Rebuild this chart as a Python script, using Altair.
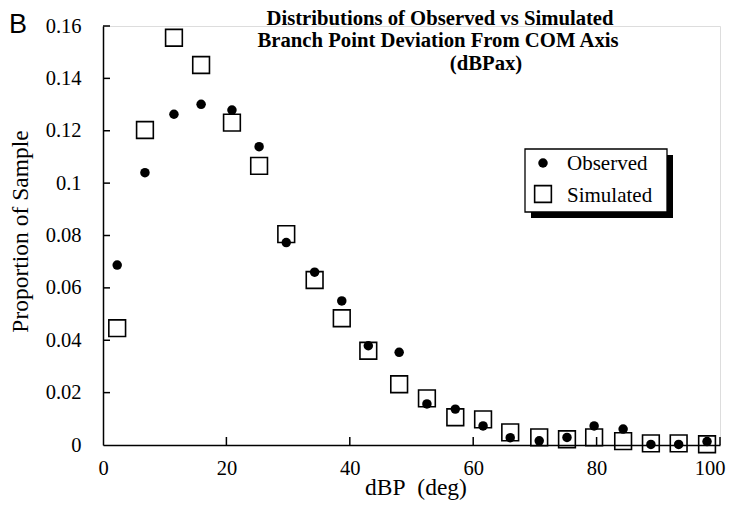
import altair as alt
import pandas as pd

# ---- data ----
dbp_deg = [2.3, 6.8, 11.5, 15.9, 20.9, 25.3, 29.7, 34.3, 38.7, 43.0, 48.0,
           52.5, 57.1, 61.6, 66.0, 70.7, 75.2, 79.6, 84.3, 88.8, 93.3, 97.9]
observed = [0.0687, 0.104, 0.1263, 0.1301, 0.1279, 0.1139, 0.0773, 0.066,
            0.055, 0.0379, 0.0354, 0.0157, 0.0137, 0.0073, 0.0028, 0.0016,
            0.0029, 0.0073, 0.0061, 0.0002, 0.0002, 0.0013]
simulated = [0.0446, 0.1203, 0.1555, 0.1451, 0.1231, 0.1066, 0.0805, 0.063,
             0.0484, 0.036, 0.0232, 0.0178, 0.0106, 0.0098, 0.0048, 0.0029,
             0.0022, 0.0029, 0.0015, 0.0006, 0.0006, 0.0003]
x_ticks = [0, 20, 40, 60, 80, 100]
y_ticks = [0, 0.02, 0.04, 0.06, 0.08, 0.1, 0.12, 0.14, 0.16]
title_lines = ["Distributions of Observed vs Simulated",
               "Branch Point Deviation From COM Axis",
               "(dBPax)"]
legend_labels = ["Observed", "Simulated"]

W, H = 617, 419
SERIF = "Liberation Serif"

df = pd.DataFrame({"x": dbp_deg, "obs": observed, "sim": simulated})
xt = pd.DataFrame({"v": [v for v in x_ticks if v > 0]})
yt = pd.DataFrame({"v": [v for v in y_ticks if v > 0]})

xscale = alt.Scale(domain=[0, 100], nice=False)
yscale = alt.Scale(domain=[0, 0.16], nice=False)

xaxis = alt.Axis(values=x_ticks, tickSize=0, labelPadding=13, grid=False,
                 domainColor="black", domainWidth=1.5, labelFont=SERIF,
                 labelFontSize=20.5, labelColor="black",
                 labelAlign={"condition": {"test": "datum.value === 100", "value": "right"},
                             "value": "center"},
                 labelOffset={"condition": {"test": "datum.value === 100", "value": 5},
                              "value": 0},
                 title="dBP\u00a0 (deg)",
                 titleFont=SERIF, titleFontSize=23.5, titleFontWeight="normal",
                 titleColor="black", titleBaseline="alphabetic",
                 titleX=W / 2 + 4, titleY=49)
yaxis = alt.Axis(values=y_ticks, tickSize=0, labelPadding=22, grid=False,
                 format="~g", domainColor="black", domainWidth=1.5,
                 labelFont=SERIF, labelFontSize=20.5, labelColor="black",
                 title="Proportion of Sample", titleFont=SERIF,
                 titleFontSize=23.5, titleFontWeight="normal",
                 titleColor="black", titleAngle=-90, titleBaseline="middle",
                 titleAlign="center", titleX=-83, titleY=205)

base = alt.Chart(df)

squares = base.mark_point(shape="square", filled=False, stroke="black",
                          strokeWidth=1.6, size=280, opacity=1).encode(
    x=alt.X("x:Q", scale=xscale, axis=xaxis),
    y=alt.Y("sim:Q", scale=yscale, axis=yaxis),
)
dots = base.mark_circle(color="black", size=90, opacity=1).encode(
    x=alt.X("x:Q", scale=xscale),
    y=alt.Y("obs:Q", scale=yscale),
)

xticks = alt.Chart(xt).mark_rule(color="black", strokeWidth=1.5).encode(
    x=alt.X("v:Q", scale=xscale), y=alt.value(H), y2=alt.value(H - 8))
yticks = alt.Chart(yt).mark_rule(color="black", strokeWidth=1.5).encode(
    y=alt.Y("v:Q", scale=yscale), x=alt.value(0), x2=alt.value(7))

one = alt.Data(values=[{}])

def txt(text, x, y, size, font=SERIF, weight="normal", align="center"):
    return alt.Chart(one).mark_text(
        font=font, fontSize=size, fontWeight=weight, align=align,
        baseline="alphabetic", color="black").encode(
        x=alt.value(x), y=alt.value(y), text=alt.value(text))

# legend with drop shadow
lx0, ly0, lx1, ly1 = 422, 123, 564, 186
shadow = alt.Chart(one).mark_rect(color="black").encode(
    x=alt.value(lx0 + 6), x2=alt.value(lx1 + 6),
    y=alt.value(ly0 + 6), y2=alt.value(ly1 + 6))
box = alt.Chart(one).mark_rect(fill="white", stroke="black", strokeWidth=1.3).encode(
    x=alt.value(lx0), x2=alt.value(lx1), y=alt.value(ly0), y2=alt.value(ly1))
leg_dot = alt.Chart(one).mark_circle(color="black", size=90, opacity=1).encode(
    x=alt.value(440), y=alt.value(137))
leg_sq = alt.Chart(one).mark_point(shape="square", filled=False, stroke="black",
                                   strokeWidth=1.6, size=280, opacity=1).encode(
    x=alt.value(440), y=alt.value(168))
leg_t1 = txt(legend_labels[0], 464, 144, 21, align="left")
leg_t2 = txt(legend_labels[1], 464, 176, 21, align="left")

t1 = txt(title_lines[0], 337, -1, 20.7, weight="bold")
t2 = txt(title_lines[1], 335, 21, 20.7, weight="bold")
t3 = txt(title_lines[2], 383, 44, 20.7, weight="bold")
panel = txt("B", -85, 7, 27, font="Liberation Sans")

chart = alt.layer(
    squares, dots, xticks, yticks,
    shadow, box, leg_dot, leg_sq, leg_t1, leg_t2,
    t1, t2, t3, panel,
).properties(
    width=W, height=H,
    autosize=alt.AutoSizeParams(type="none"),
    padding={"left": 95, "top": 18, "right": 6, "bottom": 56},
).configure_view(stroke=None).configure(background="white")

chart.save("out.html", embed_options={"renderer": "svg", "actions": False})
